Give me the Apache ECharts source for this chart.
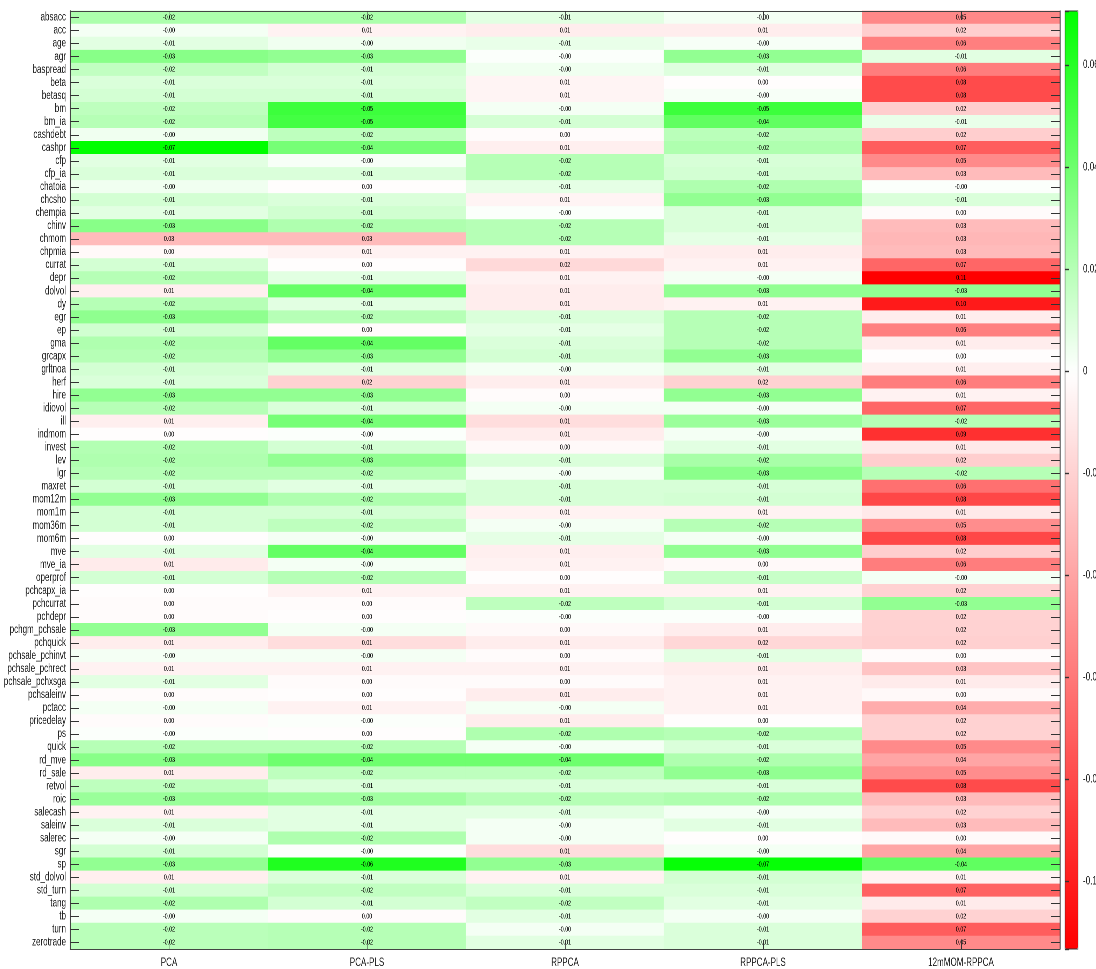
<!DOCTYPE html>
<html>
<head>
<meta charset="utf-8">
<script src="https://cdn.jsdelivr.net/npm/echarts@6/dist/echarts.min.js"></script>
<style>
  html, body { margin: 0; padding: 0; background: #fff; overflow: hidden; }
  #wrap { width: 1096px; height: 969px; overflow: hidden; position: relative; }
  #chart { height: 969px; transform-origin: 0 0; }
</style>
</head>
<body>
<div id="wrap"><div id="chart"></div></div>
<script>
// Characteristic names (rows, top to bottom) and methods (columns)
const characteristics = [
  'absacc','acc','age','agr','baspread','beta','betasq','bm','bm_ia','cashdebt','cashpr','cfp',
  'cfp_ia','chatoia','chcsho','chempia','chinv','chmom','chpmia','currat','depr','dolvol','dy','egr',
  'ep','gma','grcapx','grltnoa','herf','hire','idiovol','ill','indmom','invest','lev','lgr',
  'maxret','mom12m','mom1m','mom36m','mom6m','mve','mve_ia','operprof','pchcapx_ia','pchcurrat','pchdepr','pchgm_pchsale',
  'pchquick','pchsale_pchinvt','pchsale_pchrect','pchsale_pchxsga','pchsaleinv','pctacc','pricedelay','ps','quick','rd_mve','rd_sale','retvol',
  'roic','salecash','saleinv','salerec','sgr','sp','std_dolvol','std_turn','tang','tb','turn','zerotrade'
];
const methods = ['PCA', 'PCA-PLS', 'RPPCA', 'RPPCA-PLS', '12mMOM-RPPCA'];

// Values per method, in the row order above
const pca = [
  -0.023,-0.003,-0.008,-0.033,-0.017,-0.010,-0.012,-0.018,-0.020,-0.004,-0.0706,-0.008,
  -0.010,-0.004,-0.012,-0.008,-0.033,0.030,0.003,-0.012,-0.020,0.007,-0.020,-0.031,
  -0.013,-0.022,-0.020,-0.012,-0.010,-0.030,-0.020,0.007,0.001,-0.021,-0.022,-0.020,
  -0.012,-0.030,-0.012,-0.012,0.001,-0.008,0.009,-0.012,0.001,0.002,0.002,-0.030,
  0.008,-0.003,0.006,-0.008,0.002,-0.003,0.002,-0.001,-0.020,-0.033,0.008,-0.018,
  -0.028,0.006,-0.010,-0.003,-0.012,-0.030,0.007,-0.012,-0.022,-0.003,-0.019,-0.019
];
const pcaPls = [
  -0.023,0.006,-0.004,-0.030,-0.012,-0.010,-0.012,-0.054,-0.052,-0.018,-0.038,-0.002,
  -0.010,0.001,-0.010,-0.013,-0.022,0.030,0.006,0.001,-0.008,-0.042,-0.008,-0.020,
  0.002,-0.043,-0.030,-0.008,0.020,-0.030,-0.010,-0.038,-0.001,-0.012,-0.030,-0.020,
  -0.008,-0.022,-0.012,-0.018,-0.003,-0.043,-0.003,-0.020,0.006,0.002,0.001,-0.003,
  0.015,-0.003,0.006,0.002,0.001,0.006,-0.001,0.001,-0.020,-0.040,-0.018,-0.010,
  -0.026,-0.008,-0.008,-0.022,-0.001,-0.062,-0.010,-0.017,-0.012,0.002,-0.020,-0.020
];
const rppca = [
  -0.008,0.008,-0.006,-0.001,-0.004,0.005,0.005,-0.003,-0.012,0.002,0.007,-0.020,
  -0.020,-0.007,0.005,-0.001,-0.020,-0.020,0.006,0.017,0.006,0.008,0.008,-0.010,
  -0.007,-0.010,-0.012,-0.003,0.008,0.002,-0.003,0.015,0.008,0.003,-0.010,-0.003,
  -0.011,-0.011,0.006,-0.003,-0.007,0.007,0.006,0.001,0.006,-0.018,-0.001,0.003,
  0.008,0.002,0.006,0.002,0.008,-0.003,0.008,-0.022,-0.003,-0.040,-0.018,-0.010,
  -0.020,-0.008,-0.003,-0.003,0.015,-0.030,0.006,-0.010,-0.017,-0.008,-0.003,-0.008
];
const rppcaPls = [
  -0.003,0.008,-0.002,-0.030,-0.009,0.001,-0.002,-0.054,-0.044,-0.019,-0.022,-0.011,
  -0.012,-0.022,-0.030,-0.010,-0.010,-0.007,0.008,0.006,-0.003,-0.030,0.006,-0.020,
  -0.020,-0.020,-0.030,-0.008,0.020,-0.030,-0.003,-0.028,-0.003,-0.008,-0.024,-0.032,
  -0.011,-0.012,0.006,-0.020,-0.003,-0.030,0.003,-0.015,0.006,-0.012,-0.001,0.008,
  0.018,-0.008,0.008,0.006,0.006,0.006,0.001,-0.020,-0.010,-0.022,-0.030,-0.010,
  -0.022,-0.003,-0.008,0.001,-0.003,-0.069,-0.012,-0.010,-0.008,-0.003,-0.010,-0.010
];
const momRppca = [
  0.053,0.022,0.057,-0.008,0.058,0.080,0.080,0.022,-0.006,0.022,0.072,0.052,
  0.030,-0.001,-0.010,0.002,0.030,0.032,0.030,0.068,0.1133,-0.030,0.102,0.008,
  0.057,0.008,0.001,0.007,0.058,0.006,0.068,-0.020,0.092,0.010,0.022,-0.020,
  0.064,0.082,0.010,0.051,0.082,0.022,0.058,-0.003,0.020,-0.030,0.020,0.020,
  0.021,0.002,0.026,0.009,0.003,0.037,0.020,0.020,0.052,0.040,0.051,0.080,
  0.030,0.020,0.030,0.003,0.040,-0.044,0.006,0.070,0.009,0.020,0.072,0.052
];

// Colour scale limits
const scaleMin = -0.0706;
const scaleMax = 0.1133;

const columns = [pca, pcaPls, rppca, rppcaPls, momRppca];
const cells = [];
columns.forEach((col, j) => {
  col.forEach((v, i) => cells.push([j, i, v]));
});

// The figure is drawn on a wider canvas and compressed horizontally,
// giving the narrow lettering of the exported figure.
const SX = 0.7;
const hx = v => v / SX;           // horizontal page pixels -> chart units
const chartDom = document.getElementById('chart');
chartDom.style.width = hx(1096) + 'px';
chartDom.style.transform = 'scaleX(' + SX + ')';

const FONT = "'Liberation Sans', Arial, Helvetica, sans-serif";
const AXIS_COLOR = '#333333';
const TEXT_COLOR = '#1e1e1e';

const chart = echarts.init(chartDom, null, { renderer: 'canvas', devicePixelRatio: 2 });

const catTick = {
  show: true, inside: true, alignWithLabel: true, interval: 0,
  lineStyle: { color: AXIS_COLOR, width: 1 }
};

chart.setOption({
  animation: false,
  backgroundColor: '#ffffff',
  grid: [
    { left: hx(70), top: 11, width: hx(990), height: 938, show: false,
      containLabel: false, outerBoundsMode: 'none' },
    { left: hx(1065), top: 11, width: hx(13), height: 938, show: true,
      borderColor: AXIS_COLOR, borderWidth: 1, backgroundColor: 'rgba(0,0,0,0)', z: 10,
      containLabel: false, outerBoundsMode: 'none' }
  ],
  xAxis: [
    {
      gridIndex: 0, type: 'category', data: methods, position: 'bottom', z: 10,
      axisLine: { show: true, lineStyle: { color: '#444444', width: 1 } },
      axisTick: Object.assign({}, catTick, { length: 9 }),
      axisLabel: { fontSize: 11.5, fontFamily: FONT, color: TEXT_COLOR, margin: 8 },
      splitLine: { show: false }
    },
    {
      gridIndex: 0, type: 'category', data: methods, position: 'top', z: 10,
      axisLine: { show: true, lineStyle: { color: '#444444', width: 1 } },
      axisTick: Object.assign({}, catTick, { length: 9 }),
      axisLabel: { show: false },
      splitLine: { show: false }
    },
    {
      gridIndex: 1, type: 'value', min: 0, max: 1, show: false
    }
  ],
  yAxis: [
    {
      gridIndex: 0, type: 'category', data: characteristics, inverse: true, position: 'left', z: 10,
      axisLine: { show: true, lineStyle: { color: '#444444', width: 1.4 } },
      axisTick: Object.assign({}, catTick, { length: hx(9) }),
      axisLabel: { interval: 0, fontSize: 11.5, fontFamily: FONT, color: TEXT_COLOR, margin: hx(4) },
      splitLine: { show: false }
    },
    {
      gridIndex: 0, type: 'category', data: characteristics, inverse: true, position: 'right', z: 10,
      axisLine: { show: true, lineStyle: { color: '#444444', width: 1.4 } },
      axisTick: Object.assign({}, catTick, { length: hx(9) }),
      axisLabel: { show: false },
      splitLine: { show: false }
    },
    {
      // colour bar scale, labels on the right
      gridIndex: 1, type: 'value', min: -0.1133, max: 0.0706, splitNumber: 9, position: 'right', z: 11,
      axisLine: { show: false },
      axisTick: { show: false },
      axisLabel: { fontSize: 11.5, fontFamily: FONT, color: TEXT_COLOR, margin: hx(5),
                   showMinLabel: false, showMaxLabel: false },
      splitLine: { show: false }
    },
    {
      // colour bar tick marks on the inner left edge
      gridIndex: 1, type: 'value', min: -0.1133, max: 0.0706, splitNumber: 9, position: 'left', z: 11,
      axisLine: { show: false },
      axisTick: { show: true, inside: true, length: hx(4), lineStyle: { color: AXIS_COLOR, width: 1.4 } },
      axisLabel: { show: false },
      splitLine: { show: false }
    }
  ],
  visualMap: {
    type: 'continuous',
    seriesIndex: 0,
    dimension: 2,
    min: scaleMin,
    max: scaleMax,
    inverse: true,
    orient: 'vertical',
    left: hx(1065),
    top: 11,
    itemWidth: hx(13),
    itemHeight: 938,
    padding: 0,
    calculable: false,
    hoverLink: false,
    text: null,
    inRange: {
      color: ['#00ff00', '#33ff33', '#66ff66', '#99ff99', '#ccffcc', '#ffffff',
              '#ffdfdf', '#ffbfbf', '#ff9f9f', '#ff8080', '#ff6060', '#ff4040', '#ff2020', '#ff0000']
    }
  },
  series: [{
    type: 'heatmap',
    xAxisIndex: 0,
    yAxisIndex: 0,
    data: cells,
    itemStyle: { borderWidth: 0 },
    emphasis: { disabled: true },
    label: {
      show: true,
      fontSize: 7.5,
      fontFamily: FONT,
      color: '#000000',
      formatter: p => p.value[2].toFixed(2)
    }
  }]
});
</script>
</body>
</html>
